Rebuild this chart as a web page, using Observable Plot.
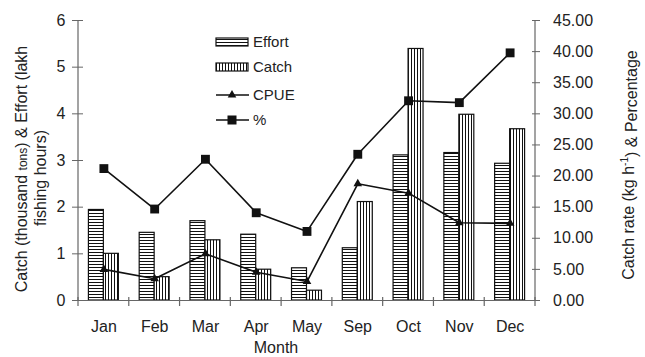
<!DOCTYPE html>
<html><head><meta charset="utf-8">
<script src="https://cdn.jsdelivr.net/npm/d3@7"></script>
<script src="https://cdn.jsdelivr.net/npm/@observablehq/plot@0.6"></script>
<style>
body{margin:0;background:#fff}
svg{font-family:"Liberation Sans",Arial,sans-serif}
</style>
</head><body><div id="chart"></div>
<script>
const months = ["Jan","Feb","Mar","Apr","May","Sep","Oct","Nov","Dec"];
const effort = [1.94,1.45,1.70,1.41,0.69,1.12,3.11,3.16,2.93];
const catchT = [1.00,0.50,1.29,0.66,0.21,2.11,5.39,3.98,3.67];
const cpue = [5.0,3.5,7.5,4.55,3.05,18.75,17.25,12.5,12.4];
const pct = [21.2,14.7,22.7,14.1,11.1,23.5,32.1,31.8,39.8];
const leftTicks = [0,1,2,3,4,5,6];
const rightTicks = [0,5,10,15,20,25,30,35,40,45];
const legendLabels = ["Effort","Catch","CPUE","%"];

const K = 6/45; // right axis -> left axis units
const data = months.map((m,i)=>({month:m, effort:effort[i], catch:catchT[i], cpue:cpue[i], pct:pct[i]}));
const W = 645, H = 357, ML = 78, MR = 110, MT = 20, MB = 57;
const ink = "#111", axisCol = "#666", txt = "#222";

const chart = Plot.plot({
  width: W, height: H,
  marginLeft: ML, marginRight: MR, marginTop: MT, marginBottom: MB,
  style: {fontSize: "16px", fontFamily: '"Liberation Sans",Arial,sans-serif', color: txt, background: "#fff"},
  x: {type: "band", domain: months, paddingInner: 0.41, paddingOuter: 0.205, round: false, label: null},
  y: {domain: [0, 6], label: null},
  marks: [
    Plot.barY(data, {x: "month", y: "effort", fill: "url(#hpat)", stroke: ink, strokeWidth: 1.2, insetRight: 15}),
    Plot.barY(data, {x: "month", y: "catch", fill: "url(#vpat)", stroke: ink, strokeWidth: 1.2, insetLeft: 15}),
    Plot.line(data, {x: "month", y: d => d.pct * K, stroke: ink, strokeWidth: 1.6}),
    Plot.dot(data, {x: "month", y: d => d.pct * K, symbol: "square", r: 5, fill: ink, stroke: "none"}),
    Plot.line(data, {x: "month", y: d => d.cpue * K, stroke: ink, strokeWidth: 1.6}),
    Plot.dot(data, {x: "month", y: d => d.cpue * K, symbol: "triangle", r: 3.2, fill: ink, stroke: "none"}),
    Plot.ruleY([0], {stroke: axisCol, strokeWidth: 1.2}),
    Plot.axisY(leftTicks, {anchor: "left", tickSize: 6, tickPadding: 7, fontSize: 16, stroke: axisCol, fill: txt}),
    Plot.axisY(leftTicks, {anchor: "left", tickSize: 5, dx: 5, stroke: axisCol, tickFormat: () => ""}),
    Plot.axisY(rightTicks.map(v => v * K), {anchor: "right", tickSize: 4, tickPadding: 13.5, fontSize: 16, stroke: axisCol, fill: txt, tickFormat: d => (d / K).toFixed(2)}),
    Plot.axisY(rightTicks.map(v => v * K), {anchor: "right", tickSize: 4, dx: -4, stroke: axisCol, tickFormat: () => ""}),
    Plot.axisX({anchor: "bottom", tickSize: 0, tickPadding: 20, fontSize: 16, fill: txt})
  ]
});

const svg = d3.select(chart);
const defs = svg.insert("defs", ":first-child");
const hp = defs.append("pattern").attr("id", "hpat").attr("patternUnits", "userSpaceOnUse").attr("width", 3).attr("height", 3);
hp.append("rect").attr("width", 3).attr("height", 3).attr("fill", "#fff");
hp.append("rect").attr("width", 3).attr("height", 1).attr("fill", ink);
const vp = defs.append("pattern").attr("id", "vpat").attr("patternUnits", "userSpaceOnUse").attr("width", 3).attr("height", 3);
vp.append("rect").attr("width", 3).attr("height", 3).attr("fill", "#fff");
vp.append("rect").attr("width", 1).attr("height", 3).attr("fill", ink);

const ys = chart.scale("y");
const y0 = ys.apply(0), y6 = ys.apply(6);
const xL = ML, xR = W - MR;
const g = svg.append("g").attr("stroke", axisCol).attr("stroke-width", 1.2);
g.append("line").attr("x1", xL).attr("x2", xL).attr("y1", y6).attr("y2", y0);
g.append("line").attr("x1", xR).attr("x2", xR).attr("y1", y6).attr("y2", y0);
const step = (xR - xL) / months.length;
for (let k = 0; k <= months.length; k++) {
  const bx = xL + k * step;
  g.append("line").attr("x1", bx).attr("x2", bx).attr("y1", y0 - 3).attr("y2", y0 + 6);
}

const t = svg.append("g").attr("fill", txt).attr("font-size", 16).attr("text-anchor", "middle");
const l1 = t.append("text").attr("transform", "translate(21,169) rotate(-90)").attr("dy", "0.35em");
l1.append("tspan").text("Catch (thousand ");
l1.append("tspan").attr("font-size", 12).text("tons");
l1.append("tspan").text(") & Effort (lakh");
t.append("text").attr("transform", "translate(40,178) rotate(-90)").attr("dy", "0.35em").text("fishing hours)");
const r1 = t.append("text").attr("transform", "translate(628,165) rotate(-90)").attr("dy", "0.35em");
r1.append("tspan").text("Catch rate (kg h");
r1.append("tspan").attr("font-size", 10).attr("dy", "-0.6em").text("-1");
r1.append("tspan").attr("dy", "0.6em").text(") & Percentage");
t.append("text").attr("x", 276).attr("y", 353).text("Month");

// legend
const lg = svg.append("g").attr("font-size", 15).attr("fill", txt).attr("text-anchor", "start");
lg.append("rect").attr("x", 216).attr("y", 38).attr("width", 32).attr("height", 8).attr("fill", "url(#hpat)").attr("stroke", ink).attr("stroke-width", 1.2);
lg.append("rect").attr("x", 216).attr("y", 63).attr("width", 32).attr("height", 8).attr("fill", "url(#vpat)").attr("stroke", ink).attr("stroke-width", 1.2);
lg.append("line").attr("x1", 216).attr("x2", 249).attr("y1", 95).attr("y2", 95).attr("stroke", ink).attr("stroke-width", 1.6);
lg.append("path").attr("d", d3.symbol(d3.symbolTriangle, Math.PI * 3.2 * 3.2)()).attr("transform", "translate(232,95)").attr("fill", ink);
lg.append("line").attr("x1", 216).attr("x2", 249).attr("y1", 120).attr("y2", 120).attr("stroke", ink).attr("stroke-width", 1.6);
lg.append("rect").attr("x", 227.5).attr("y", 115.5).attr("width", 9).attr("height", 9).attr("fill", ink);
const lys = [47, 72, 100, 125];
legendLabels.forEach((s, i) => lg.append("text").attr("x", 253).attr("y", lys[i]).text(s));

document.getElementById("chart").appendChild(chart);
</script>
</body></html>
